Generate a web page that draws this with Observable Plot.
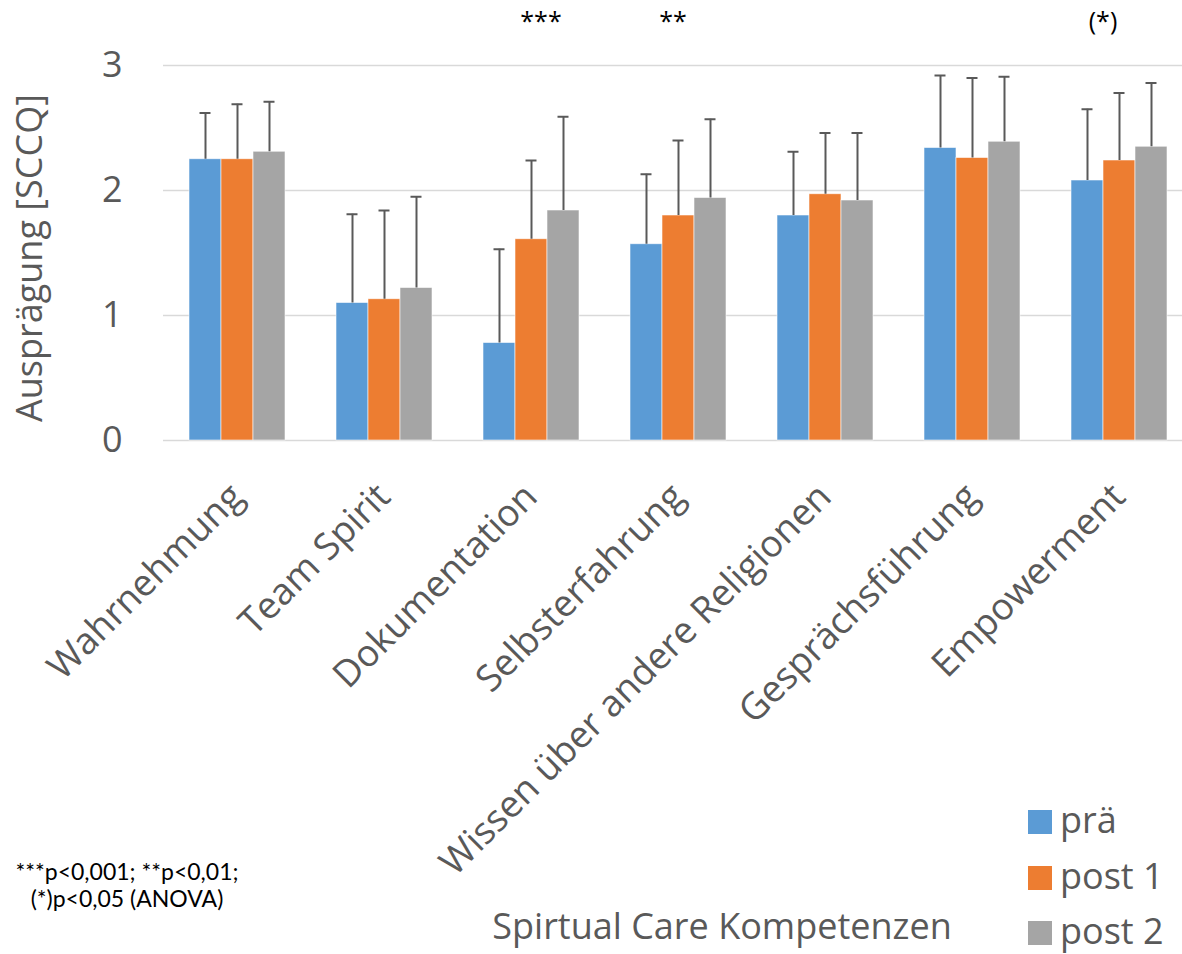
<!DOCTYPE html>
<html>
<head>
<meta charset="utf-8">
<script src="https://cdn.jsdelivr.net/npm/d3@7"></script>
<script src="https://cdn.jsdelivr.net/npm/@observablehq/plot@0.6"></script>
<style>
  html, body { margin: 0; padding: 0; background: #fff; overflow: hidden; }
  #chart { position: relative; width: 1182px; height: 954px; overflow: hidden;
           font-family: "Open Sans", sans-serif; color: #595959; }
  #chart svg { position: absolute; left: 0; top: 0; max-width: none !important; }
  .ytitle { position: absolute; left: 29px; top: 258px; font-size: 36px; line-height: 36px;
            white-space: nowrap; transform: translate(-50%, -50%) rotate(-90deg); }
  .xtitle { position: absolute; left: 722px; top: 908px; font-size: 36px; line-height: 36px;
            white-space: nowrap; transform: translateX(-50%); }
  .legend-row { position: absolute; left: 1028px; height: 36px; line-height: 36px; font-size: 36px;
                white-space: nowrap; }
  .legend-row .swatch { position: absolute; left: 0; top: 8px; width: 24px; height: 24px; }
  .legend-row .label { position: absolute; left: 32px; top: 0; }
  .footnote { position: absolute; left: 0; width: 254px; top: 858px; text-align: center;
              font-family: Lato, sans-serif; font-size: 23px; line-height: 27px; color: #000; }
</style>
</head>
<body>
<div id="chart"></div>
<script>
// Spiritual care competences (SCCQ), group means with standard deviations
const categories = [
  "Wahrnehmung", "Team Spirit", "Dokumentation", "Selbsterfahrung",
  "Wissen über andere Religionen", "Gesprächsführung", "Empowerment"
];
const series = ["prä", "post 1", "post 2"];

const praeMean  = [2.25, 1.10, 0.78, 1.57, 1.80, 2.34, 2.08];
const praeSD    = [0.37, 0.71, 0.75, 0.56, 0.51, 0.58, 0.57];
const post1Mean = [2.25, 1.13, 1.61, 1.80, 1.97, 2.26, 2.24];
const post1SD   = [0.44, 0.71, 0.63, 0.60, 0.49, 0.64, 0.54];
const post2Mean = [2.31, 1.22, 1.84, 1.94, 1.92, 2.39, 2.35];
const post2SD   = [0.40, 0.73, 0.75, 0.63, 0.54, 0.52, 0.51];

const yTicks = [0, 1, 2, 3];
const colors = ["#5B9BD5", "#ED7D31", "#A5A5A5"];

// significance markers above the groups
const annotations = [
  { category: "Dokumentation", label: "***" },
  { category: "Selbsterfahrung", label: "**" },
  { category: "Empowerment", label: "(*)" }
];

const yLabel = "Ausprägung [SCCQ]";
const xLabel = "Spirtual Care Kompetenzen";
const footnoteLines = ["***p<0,001; **p<0,01;", "(*)p<0,05 (ANOVA)"];

// tidy rows for the library
const means = [praeMean, post1Mean, post2Mean];
const sds = [praeSD, post1SD, post2SD];
const rows = categories.flatMap((c, i) =>
  series.map((s, j) => ({ category: c, series: s, mean: means[j][i], sd: sds[j][i] }))
);

// horizontal nudges for the significance markers
const markerShift = { "Dokumentation": 10, "Selbsterfahrung": -5, "Empowerment": -16 };

const chart = Plot.plot({
  width: 1195,
  height: 954,
  marginLeft: 160,
  marginRight: 0,
  marginTop: 65,
  marginBottom: 514,
  style: { fontFamily: "Open Sans, sans-serif", color: "#595959", background: "transparent", overflow: "visible" },
  fx: { domain: categories, padding: 0, axis: null },
  x: { domain: series, paddingInner: 0, paddingOuter: 0.76, axis: null },
  y: { domain: [0, 3], axis: null },
  color: { domain: series, range: colors },
  marks: [
    Plot.ruleY(yTicks, { stroke: "#D9D9D9", strokeWidth: 1.5 }),
    Plot.barY(rows, { fx: "category", x: "series", y: "mean", fill: "series",
                      stroke: "#ffffff", strokeWidth: 0.8, strokeOpacity: 0.7 }),
    Plot.ruleX(rows, { fx: "category", x: "series", y1: "mean", y2: d => d.mean + d.sd,
                       stroke: "#595959", strokeWidth: 2 }),
    Plot.tickY(rows, { fx: "category", x: "series", y: d => d.mean + d.sd,
                       stroke: "#595959", strokeWidth: 2, insetLeft: 10.5, insetRight: 10.5 }),
    Plot.axisY({ ticks: yTicks, tickSize: 0, tickPadding: 41, fontSize: 36, label: null,
                 tickFormat: d => String(d), fill: "#595959" }),
    Plot.text(categories, { fx: d => d, text: d => d, frameAnchor: "bottom", rotate: -45,
                            textAnchor: "end", lineAnchor: "middle", dx: 0, dy: 50,
                            fontSize: 37, fill: "#595959" }),
    ...annotations.map(a => Plot.text([a], {
      fx: d => d.category, text: d => d.label, frameAnchor: "top", dy: -44,
      dx: markerShift[a.category] ?? 0, lineAnchor: "middle",
      fontFamily: "Open Sans, sans-serif", fontSize: 25, fill: "#000"
    }))
  ]
});

const root = document.getElementById("chart");
root.appendChild(chart);

const yt = document.createElement("div");
yt.className = "ytitle";
yt.textContent = yLabel;
root.appendChild(yt);

const xt = document.createElement("div");
xt.className = "xtitle";
xt.textContent = xLabel;
root.appendChild(xt);

series.forEach((s, i) => {
  const row = document.createElement("div");
  row.className = "legend-row";
  row.style.top = (802 + i * 55.5) + "px";
  const sw = document.createElement("div");
  sw.className = "swatch";
  sw.style.background = colors[i];
  const lb = document.createElement("div");
  lb.className = "label";
  lb.textContent = s;
  row.appendChild(sw);
  row.appendChild(lb);
  root.appendChild(row);
});

const fn = document.createElement("div");
fn.className = "footnote";
fn.innerHTML = footnoteLines.map(t => t.replace(/</g, "&lt;")).join("<br>");
root.appendChild(fn);
</script>
</body>
</html>
